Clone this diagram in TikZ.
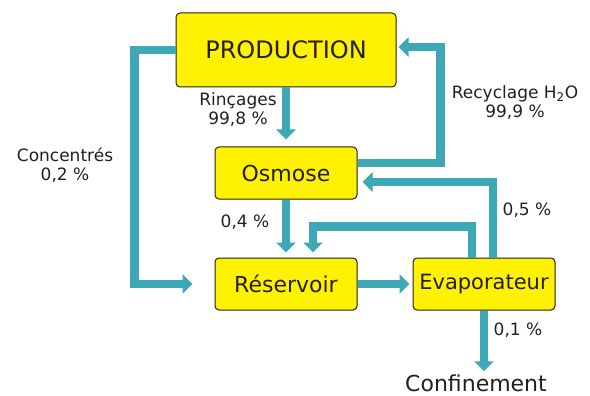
\documentclass[tikz,border=0pt]{standalone}
\usepackage{fontspec}
\setmainfont{DejaVu Sans}
\usepackage{xcolor}
\usepackage{tikz}
\usetikzlibrary{arrows.meta, positioning}

\definecolor{flowteal}{RGB}{62,168,182}
\definecolor{boxyellow}{RGB}{255,242,0}
\definecolor{inkdark}{RGB}{35,31,32}

\begin{document}
\begin{tikzpicture}[
    x=1pt, y=-1pt,
    box/.style={
        draw=inkdark,
        line width=1pt,
        rounded corners=4pt,
        fill=boxyellow,
        text=inkdark,
        align=center,
        inner sep=0pt
    },
    flow/.style={
        draw=flowteal,
        line width=8.5pt,
        -{Triangle[width=19pt, length=10pt]}
    },
    lbl/.style={
        text=inkdark,
        align=center,
        font=\fontsize{17}{19}\selectfont
    }
]
\useasboundingbox (0,0) rectangle (590,396);

% Production Block
\node[box, minimum width=220pt, minimum height=74pt, font=\fontsize{24}{26}\selectfont] (prod) at (286,50) {PRODUCTION};

% Osmose Block
\node[box, minimum width=142pt, minimum height=52pt, font=\fontsize{22}{24}\selectfont] (osm) at (286,173) {Osmose};

% Reservoir Block
\node[box, minimum width=142pt, minimum height=52pt, font=\fontsize{22}{24}\selectfont] (res) at (286,284) {Réservoir};

% Evaporateur Block
\node[box, minimum width=142pt, minimum height=52pt, font=\fontsize{21}{23}\selectfont] (evap) at (484,284) {Evaporateur};

% Output
\node[text=inkdark, inner sep=1pt, font=\fontsize{22}{24}\selectfont] (conf) at (476,383) {Confinement};

% Flows
\draw[flow] (prod.south) -- ([yshift=7pt]osm.north);
\draw[flow] (osm.south) -- ([yshift=5pt]res.north);
\draw[flow] (res.east) -- ([xshift=-3pt]evap.west);
\draw[flow] (prod.west) -- ++(-41,0) |- ([xshift=-22pt]res.west);
\draw[flow] ([yshift=10pt]osm.east) -- ++(83,0) |- ([xshift=2pt, yshift=3pt]prod.east);
\draw[flow] ([xshift=9pt]evap.north) |- ([xshift=5pt, yshift=-9pt]osm.east);
\draw[flow] ([xshift=-12pt]evap.north) -- ++(0,-31) -| ([xshift=27pt, yshift=5pt]res.north);
\draw[flow] (evap.south) -- ([yshift=2pt]evap.south |- conf.north);

% Labels
\node[lbl] (rinc) at (238,110) {Rinçages\\99,8 \%};
\node[lbl] (recy) at (515,103) {Recyclage H\textsubscript{2}O\\99,9 \%};
\node[lbl] (conc) at (65,165) {Concentrés\\0,2 \%};
\node[lbl] (p04) at (245,222) {0,4 \%};
\node[lbl] (p05) at (527,210) {0,5 \%};
\node[lbl] (p01) at (518,330) {0,1 \%};

\end{tikzpicture}
\end{document}
